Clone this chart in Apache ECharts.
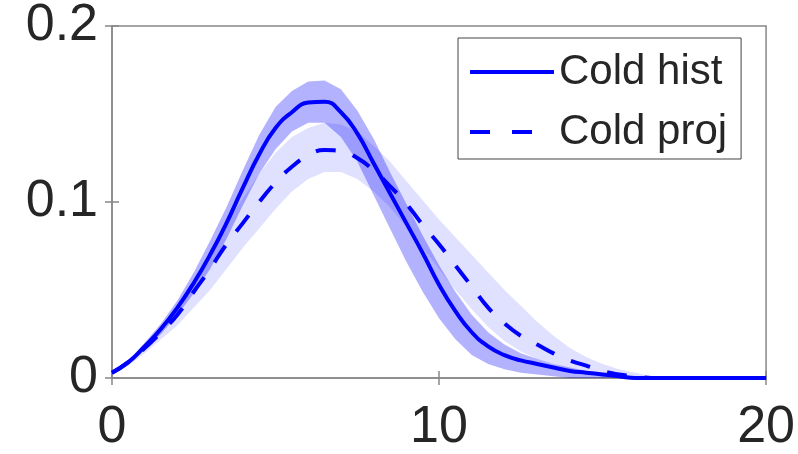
<!DOCTYPE html>
<html>
<head>
<meta charset="utf-8">
<script src="https://cdn.jsdelivr.net/npm/echarts@6/dist/echarts.min.js"></script>
<style>
  html, body { margin: 0; padding: 0; background: #fff; }
  #chart { width: 798px; height: 454px; }
</style>
</head>
<body>
<div id="chart"></div>
<script>
// x positions (0 .. 20 step 0.5)
var xs = [0, 0.5, 1, 1.5, 2, 2.5, 3, 3.5, 4, 4.5, 5, 5.5, 6, 6.5, 7, 7.5, 8, 8.5, 9, 9.5,
  10, 10.5, 11, 11.5, 12, 12.5, 13, 13.5, 14, 14.5, 15, 15.5, 16, 16.5, 17, 17.5, 18, 18.5, 19, 19.5, 20];

// Cold hist: mean and band
var histMean = [0.003, 0.009, 0.018, 0.028, 0.040, 0.054, 0.070, 0.088, 0.108, 0.127, 0.142, 0.151, 0.1565, 0.157, 0.151, 0.139, 0.122, 0.105, 0.088, 0.071,
  0.053, 0.038, 0.026, 0.018, 0.013, 0.010, 0.008, 0.006, 0.004, 0.003, 0.002, 0.001, 0, 0, 0, 0, 0, 0, 0, 0, 0];
var histUpper = [0.004, 0.010, 0.020, 0.031, 0.044, 0.060, 0.078, 0.097, 0.118, 0.138, 0.154, 0.163, 0.1685, 0.169, 0.164, 0.152, 0.136, 0.117, 0.099, 0.081,
  0.064, 0.049, 0.036, 0.026, 0.019, 0.014, 0.011, 0.008, 0.006, 0.004, 0.003, 0.002, 0.001, 0, 0, 0, 0, 0, 0, 0, 0];
var histLower = [0.002, 0.008, 0.016, 0.025, 0.036, 0.048, 0.062, 0.079, 0.098, 0.116, 0.130, 0.140, 0.145, 0.145, 0.137, 0.123, 0.104, 0.085, 0.066, 0.049,
  0.034, 0.022, 0.013, 0.008, 0.005, 0.003, 0.002, 0.001, 0, 0, 0, 0, 0, 0, 0, 0, 0, 0, 0, 0, 0];

// Cold proj: mean and band
var projMean = [0.003, 0.009, 0.017, 0.026, 0.036, 0.049, 0.062, 0.076, 0.088, 0.100, 0.111, 0.120, 0.1265, 0.1295, 0.129, 0.125, 0.118, 0.109, 0.099, 0.087,
  0.076, 0.064, 0.052, 0.040, 0.031, 0.024, 0.019, 0.014, 0.010, 0.007, 0.004, 0.002, 0.001, 0, 0, 0, 0, 0, 0, 0, 0];
var projUpper = [0.004, 0.010, 0.019, 0.029, 0.041, 0.056, 0.072, 0.088, 0.102, 0.116, 0.128, 0.137, 0.142, 0.145, 0.144, 0.140, 0.132, 0.123, 0.112, 0.101,
  0.090, 0.080, 0.070, 0.060, 0.050, 0.041, 0.032, 0.024, 0.017, 0.012, 0.008, 0.005, 0.003, 0.001, 0, 0, 0, 0, 0, 0, 0];
var projLower = [0.002, 0.007, 0.014, 0.022, 0.030, 0.040, 0.050, 0.062, 0.074, 0.085, 0.096, 0.106, 0.113, 0.117, 0.117, 0.113, 0.106, 0.097, 0.086, 0.074,
  0.062, 0.050, 0.039, 0.029, 0.021, 0.015, 0.011, 0.008, 0.005, 0.003, 0.001, 0, 0, 0, 0, 0, 0, 0, 0, 0, 0];

var seriesNames = ['Cold hist', 'Cold proj'];

function pairs(ys) {
  return xs.map(function (x, i) { return [x, ys[i]]; });
}
function bandRows(lo, up) {
  return xs.map(function (x, i) { return [x, lo[i], up[i]]; });
}

// one polygon per band: upper edge left->right, lower edge right->left
function bandRenderer(rows, color) {
  return function (params, api) {
    if (params.dataIndex !== 0) return null;
    var pts = [];
    for (var i = 0; i < rows.length; i++) pts.push(api.coord([rows[i][0], rows[i][2]]));
    for (var j = rows.length - 1; j >= 0; j--) pts.push(api.coord([rows[j][0], rows[j][1]]));
    return {
      type: 'polygon',
      shape: { points: pts },
      style: { fill: color, stroke: null }
    };
  };
}

var textColor = '#262626';
var axisColor = '#888';
var fontFam = '"Liberation Sans", Arial, Helvetica, sans-serif';

var histRows = bandRows(histLower, histUpper);
var projRows = bandRows(projLower, projUpper);

var chart = echarts.init(document.getElementById('chart'));
chart.setOption({
  animation: false,
  backgroundColor: '#fff',
  grid: {
    left: 112, right: 30, top: 13, bottom: 74,
    show: true, borderColor: axisColor, borderWidth: 1.5, backgroundColor: 'transparent'
  },
  legend: {
    data: [
      { name: seriesNames[0] },
      { name: seriesNames[1], lineStyle: { type: [20, 22] } }
    ],
    orient: 'vertical',
    left: 458, top: 38,
    padding: [13, 14, 6, 10],
    itemGap: 18,
    itemWidth: 84,
    itemHeight: 14,
    borderColor: '#444',
    borderWidth: 1,
    backgroundColor: '#fff',
    itemStyle: { opacity: 0 },
    lineStyle: { width: 4 },
    textStyle: { fontSize: 42, color: textColor, fontFamily: fontFam }
  },
  xAxis: [{
    type: 'value', min: 0, max: 20, interval: 10,
    axisLine: { show: true, lineStyle: { color: axisColor, width: 1.5 } },
    axisTick: { show: true, inside: true, length: 7, lineStyle: { color: axisColor, width: 1.5 } },
    splitLine: { show: false },
    axisLabel: { margin: 24, fontSize: 52, color: textColor, fontFamily: fontFam }
  }, {
    type: 'value', min: 0, max: 20, interval: 10, position: 'top',
    axisLine: { show: false },
    axisTick: { show: true, inside: true, length: 7, lineStyle: { color: axisColor, width: 1.5 } },
    splitLine: { show: false },
    axisLabel: { show: false }
  }],
  yAxis: [{
    type: 'value', min: 0, max: 0.2, interval: 0.1,
    axisLine: { show: true, lineStyle: { color: axisColor, width: 1.5 } },
    axisTick: { show: true, inside: true, length: 7, lineStyle: { color: axisColor, width: 1.5 } },
    splitLine: { show: false },
    axisLabel: { margin: 14, fontSize: 52, color: textColor, fontFamily: fontFam }
  }, {
    type: 'value', min: 0, max: 0.2, interval: 0.1, position: 'right',
    axisLine: { show: false },
    axisTick: { show: true, inside: true, length: 7, lineStyle: { color: axisColor, width: 1.5 } },
    splitLine: { show: false },
    axisLabel: { show: false }
  }],
  series: [
    {
      name: 'projBand', type: 'custom', data: projRows, silent: true, z: 1,
      encode: { x: 0, y: [1, 2] },
      renderItem: bandRenderer(projRows, 'rgba(0,0,255,0.12)')
    },
    {
      name: 'histBand', type: 'custom', data: histRows, silent: true, z: 2,
      encode: { x: 0, y: [1, 2] },
      renderItem: bandRenderer(histRows, 'rgba(0,0,255,0.3)')
    },
    {
      name: seriesNames[0], type: 'line', data: pairs(histMean),
      symbol: 'none', showSymbol: false, smooth: 0.5, color: '#0000ff',
      lineStyle: { color: '#0000ff', width: 4, type: 'solid' }, z: 5
    },
    {
      name: seriesNames[1], type: 'line', data: pairs(projMean),
      symbol: 'none', showSymbol: false, smooth: 0.5, color: '#0000ff',
      lineStyle: { color: '#0000ff', width: 4, type: [20, 18] }, z: 5
    }
  ]
});
</script>
</body>
</html>
